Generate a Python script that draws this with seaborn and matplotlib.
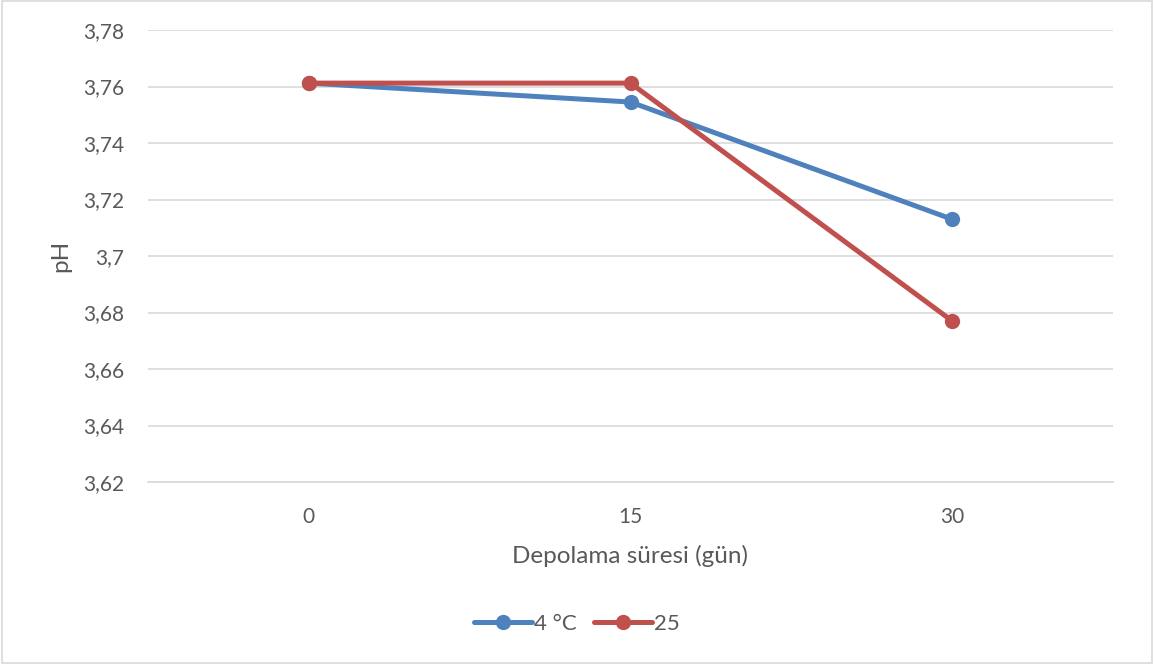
import matplotlib
matplotlib.use("Agg")
import matplotlib.pyplot as plt
import seaborn as sns
import pandas as pd
from matplotlib.patches import Rectangle

days = ["0", "15", "30"]
ph_4c = [3.7612, 3.7545, 3.7130]
ph_25 = [3.7612, 3.7612, 3.6770]
series_names = ["4 °C", "25"]
yticks = [3.62, 3.64, 3.66, 3.68, 3.70, 3.72, 3.74, 3.76, 3.78]
ytick_labels = ["3,62", "3,64", "3,66", "3,68", "3,7", "3,72", "3,74", "3,76", "3,78"]

sns.set_theme(style="white")
plt.rcParams['font.family'] = ['Lato', 'DejaVu Sans']

rows = []
for i, d in enumerate(days):
    rows.append({"pos": i, "ph": ph_4c[i], "seri": series_names[0]})
    rows.append({"pos": i, "ph": ph_25[i], "seri": series_names[1]})
df = pd.DataFrame(rows)

fig = plt.figure(figsize=(11.54, 6.64), dpi=100)
ax = fig.add_axes([148/1154, 1-482/664, (1113-148)/1154, (482-30)/664])

palette = {series_names[0]: "#4F81BD", series_names[1]: "#C0504D"}
sns.lineplot(data=df, x="pos", y="ph", hue="seri", palette=palette, marker="o",
             markersize=11, linewidth=3.6, markeredgewidth=0, ax=ax, legend=True,
             solid_capstyle="round")

ax.set_xlim(-0.5, 2.5)
ax.set_ylim(3.62, 3.78)
ax.set_xticks(range(len(days)))
ax.set_xticklabels(days)
ax.set_yticks(yticks)
ax.set_yticklabels(ytick_labels)
ax.tick_params(axis="both", length=0, labelsize=15, colors="#595959")
ax.tick_params(axis="y", pad=17)
ax.tick_params(axis="x", pad=18)
ax.grid(axis="y", color="#D9D9D9", linewidth=1.2)
ax.set_axisbelow(True)
for s in ["left", "right", "top"]:
    ax.spines[s].set_visible(False)
ax.spines["bottom"].set_color("#D9D9D9")
ax.spines["bottom"].set_linewidth(1.2)
ax.set_xlabel("Depolama süresi (gün)", fontsize=17.5, color="#595959", labelpad=13)
ax.set_ylabel("pH", fontsize=17.5, color="#595959", labelpad=9)

handles, labels = ax.get_legend_handles_labels()
ax.get_legend().remove()
fig.legend(handles, labels, loc="center", bbox_to_anchor=(0.5, 1-624/664), ncol=2,
           frameon=False, fontsize=16, labelcolor="#595959", handlelength=2.6,
           handletextpad=0.1, columnspacing=0.8)

fig.patches.append(Rectangle((0.002, 0.002), 0.996, 0.996, transform=fig.transFigure,
                             fill=False, edgecolor="#D9D9D9", linewidth=1.2))

fig.savefig("out.png", dpi=100, facecolor="white")
